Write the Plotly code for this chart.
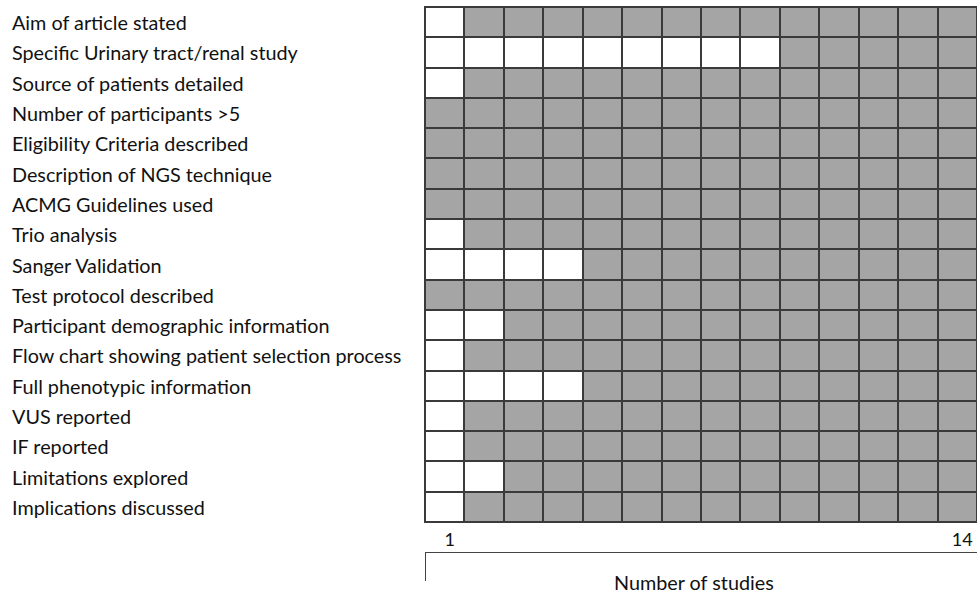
import plotly.graph_objects as go

criteria = [
    "Aim of article stated",
    "Specific Urinary tract/renal study",
    "Source of patients detailed",
    "Number of participants >5",
    "Eligibility Criteria described",
    "Description of NGS technique",
    "ACMG Guidelines used",
    "Trio analysis",
    "Sanger Validation",
    "Test protocol described",
    "Participant demographic information",
    "Flow chart showing patient selection process",
    "Full phenotypic information",
    "VUS reported",
    "IF reported",
    "Limitations explored",
    "Implications discussed",
]
# number of studies (from the left) NOT meeting each criterion (white cells)
white_cells = [1, 9, 1, 0, 0, 0, 0, 1, 4, 0, 2, 1, 4, 1, 1, 2, 1]
n_studies = 14
studies = list(range(1, n_studies + 1))
tick_vals = [1, 14]
tick_text = ["1", "14"]
x_title = "Number of studies"

z = [[0 if s <= w else 1 for s in studies] for w in white_cells]

W, H = 977, 594
ML, MR, MT, MB = 425, 0, 7, 0
plot_h = H - MT - MB
plot_w = W - ML - MR
grid_bottom = 522
line_y = 552
title_y = 582

FONT = "Lato, 'Open Sans', sans-serif"
LINE = "#3a3a3a"

fig = go.Figure()
fig.add_trace(go.Heatmap(
    z=z, x=studies, y=criteria,
    colorscale=[[0, "#ffffff"], [1, "#a5a5a5"]],
    zmin=0, zmax=1, showscale=False, xgap=2, ygap=2,
    hoverinfo="skip",
))
fig.add_trace(go.Scatter(x=[], y=[], xaxis="x2", yaxis="y", showlegend=False))

for c in criteria:
    fig.add_annotation(
        x=-(ML - 10) / plot_w, xref="paper", y=c, yref="y",
        text=c, showarrow=False, xanchor="left", yanchor="middle",
        font=dict(family=FONT, size=19.8, color="#111"),
    )

fig.add_annotation(
    x=(694 - ML) / plot_w, xref="paper", y=(H - MB - title_y) / plot_h, yref="paper",
    text=x_title, showarrow=False, xanchor="center", yanchor="middle",
    font=dict(family=FONT, size=19.8, color="#111"),
)

fig.update_layout(
    width=W, height=H,
    margin=dict(l=ML, r=MR, t=MT, b=MB, pad=0),
    paper_bgcolor="white",
    plot_bgcolor=LINE,
    xaxis=dict(
        range=[0.5, n_studies + 0.5], tickvals=tick_vals, ticktext=tick_text,
        ticks="outside", ticklen=1, tickcolor="rgba(0,0,0,0)",
        ticklabelshift=5,
        showgrid=False, zeroline=False,
        showline=True, linecolor=LINE, linewidth=1, mirror=True,
        tickfont=dict(family=FONT, size=18, color="#111"),
        fixedrange=True,
    ),
    xaxis2=dict(
        overlaying="x", anchor="free",
        position=(H - MB - line_y) / plot_h,
        range=[0.5, n_studies + 0.5], tickvals=[0.5],
        ticks="outside", ticklen=28, tickwidth=1, tickcolor="#444",
        showticklabels=False, showgrid=False, zeroline=False,
        showline=True, linecolor="#444", linewidth=1,
    ),
    yaxis=dict(
        domain=[(H - MB - grid_bottom) / plot_h, 1],
        autorange="reversed", showticklabels=False, ticks="",
        showgrid=False, zeroline=False,
        showline=True, linecolor=LINE, linewidth=1, mirror=True,
    ),
)

fig.write_html("out.html", config={"displayModeBar": False},
               post_script="document.body.style.margin='0px';")
